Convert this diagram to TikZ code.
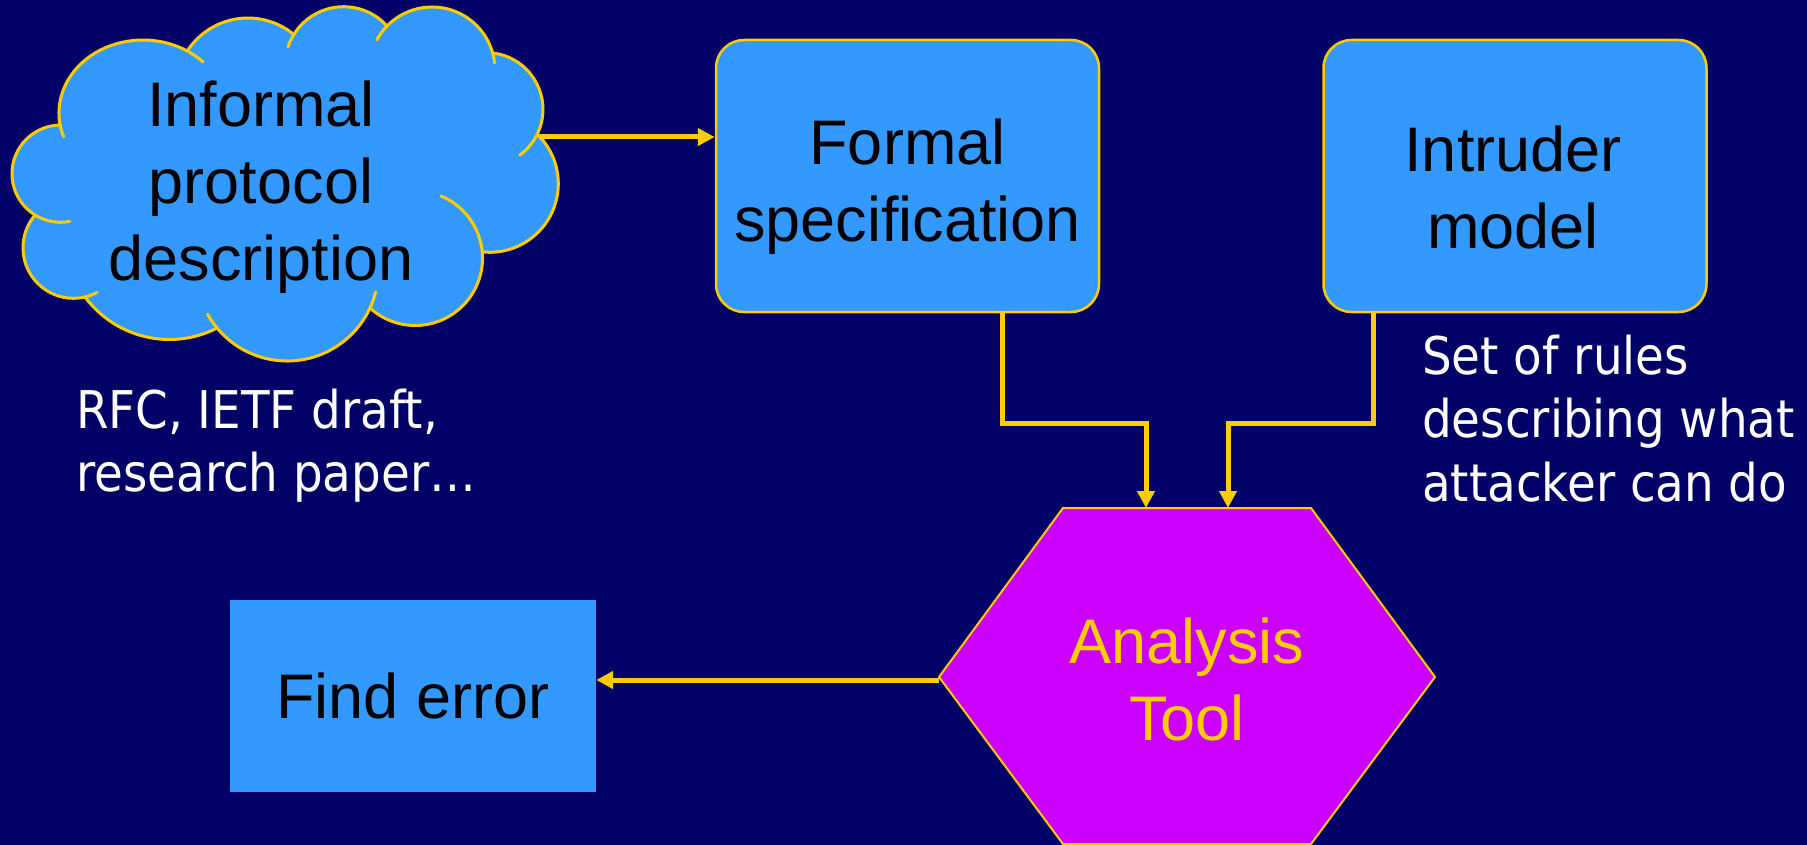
\documentclass[tikz,border=0pt]{standalone}
\usepackage{fontspec}
\setmainfont{Liberation Sans}
\newfontfamily\notefont{DejaVu Sans Condensed}
\usetikzlibrary{arrows.meta}
\definecolor{bg}{HTML}{000066}
\definecolor{boxblue}{HTML}{3399FF}
\definecolor{gold}{HTML}{FFCC00}
\definecolor{hexviolet}{HTML}{CC00FF}
\tikzset{
  bigtext/.style={font=\fontsize{63}{77}\selectfont, align=center, inner sep=0pt},
  notetext/.style={font=\notefont\fontsize{52}{63.5}\selectfont, text=white, align=left, inner sep=0pt},
  stepbox/.style={draw=gold, fill=boxblue, line width=2.5pt, rounded corners=28pt, minimum width=383pt, minimum height=272pt, inner sep=0pt},
  resultbox/.style={fill=boxblue, minimum width=366pt, minimum height=192pt, inner sep=0pt},
  conn/.style={draw=gold, line width=5pt, -{Triangle[length=17pt,width=17pt]}},
  cloudline/.style={draw=gold, line width=3pt, line cap=round},
}
\begin{document}
\begin{tikzpicture}[x=1pt,y=1pt]
\fill[bg] (0,0) rectangle (1807,-845);
\useasboundingbox (0,0) rectangle (1807,-845);

% cloud fill
\begin{scope}[fill=boxblue]
  \fill (143,-113) ellipse [x radius=84pt, y radius=73pt];
  \fill (60.6,-173.7) circle [radius=48.6pt];
  \fill (73.5,-247.8) circle [radius=50.5pt];
  \fill (169.4,-234.5) circle [radius=105pt];
  \fill (287.2,-269.9) circle [radius=91.1pt];
  \fill (415.2,-258.2) circle [radius=67.3pt];
  \fill (489.7,-183.7) circle [radius=68.6pt];
  \fill (486.2,-109.4) circle [radius=56.8pt];
  \fill (432.1,-69.9) circle [radius=62.9pt];
  \fill (343.6,-65.2) circle [radius=58.5pt];
  \fill (247.9,-90.2) circle [radius=72.2pt];
  \fill (60,-125) -- (188,-50) -- (292,-33) -- (387,-26) -- (493,-53) -- (538,-135)
        -- (482,-252) -- (370,-308) -- (217,-328) -- (85,-297) -- (35,-215) -- cycle;
\end{scope}
% cloud outline
\draw[cloudline] (143,-113) ++(199:84pt and 73pt) arc[start angle=199, end angle=44.4, x radius=84pt, y radius=73pt];
\draw[cloudline] (247.9,-90.2) ++(146.2:72.2pt) arc[start angle=146.2, end angle=52.4, radius=72.2pt];
\draw[cloudline] (343.6,-65.2) ++(161.9:58.5pt) arc[start angle=161.9, end angle=42.1, radius=58.5pt];
\draw[cloudline] (432.1,-69.9) ++(151.5:62.9pt) arc[start angle=151.5, end angle=6.3, radius=62.9pt];
\draw[cloudline] (486.2,-109.4) ++(83.1:56.8pt) arc[start angle=83.1, end angle=-53.5, radius=56.8pt];
\draw[cloudline] (489.7,-183.7) ++(45.2:68.6pt) arc[start angle=45.2, end angle=-95.6, radius=68.6pt];
\draw[cloudline] (415.2,-258.2) ++(67.5:67.3pt) arc[start angle=67.5, end angle=-132.2, radius=67.3pt];
\draw[cloudline] (287.2,-269.9) ++(346:91.1pt) arc[start angle=346, end angle=209, radius=91.1pt];
\draw[cloudline] (169.4,-234.5) ++(297:105pt) arc[start angle=297, end angle=216.5, radius=105pt];
\draw[cloudline] (73.5,-247.8) ++(298:50.5pt) arc[start angle=298, end angle=139.5, radius=50.5pt];
\draw[cloudline] (60.6,-173.7) ++(281:48.6pt) arc[start angle=281, end angle=90, radius=48.6pt];
\node[bigtext] (informal) at (261,-187) {Informal\\protocol\\description};
\coordinate (cloudR) at (539,-137);

% boxes
\node[stepbox] (formal) at (907.5,-176) {};
\node[bigtext] (formaltext) at (907.5,-187) {Formal\\specification};
\node[stepbox] (intruder) at (1515,-176) {};
\node[bigtext] (intrudertext) at (1513,-187) {Intruder\\model};
\node[resultbox, bigtext] (find) at (413,-696) {Find error};

% hexagon
\draw[fill=hexviolet, draw=gold, line width=2pt] (939,-677) -- (1063,-508) -- (1311,-508) -- (1435,-677) -- (1311,-844) -- (1063,-844) -- cycle;
\node[bigtext, text=gold] (tool) at (1187,-679) {Analysis\\Tool};
\coordinate (hexL) at (939,-680);
\coordinate (toolA) at (1146,-508);
\coordinate (toolB) at (1228,-508);

% notes
\node[notetext, anchor=north west] (rfc) at (76,-388.5) {RFC, IETF draft,\\research paper…};
\node[notetext, anchor=north west] (rules) at (1422,-334.5) {Set of rules\\describing what\\attacker can do};

% connectors
\draw[conn] (cloudR) -- (cloudR -| formal.west);
\draw[conn] ([xshift=94.5pt]formal.south) |- ([yshift=85pt]toolA) -- (toolA);
\draw[conn] ([xshift=-142pt]intruder.south) |- ([yshift=85pt]toolB) -- (toolB);
\draw[conn] (hexL) -- (hexL -| find.east);
\end{tikzpicture}
\end{document}
